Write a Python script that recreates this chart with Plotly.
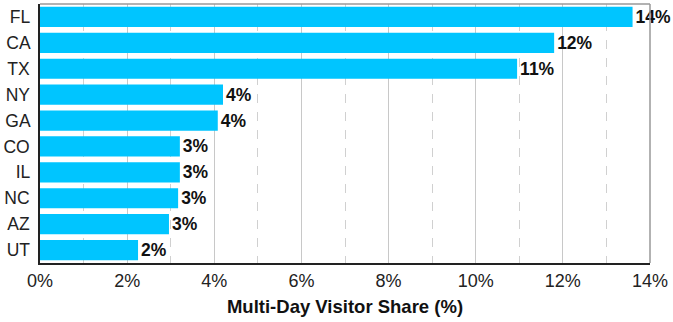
import plotly.graph_objects as go

states = ["FL", "CA", "TX", "NY", "GA", "CO", "IL", "NC", "AZ", "UT"]
share = [13.6, 11.8, 10.95, 4.2, 4.08, 3.21, 3.21, 3.17, 2.96, 2.25]
tick_vals = [0, 2, 4, 6, 8, 10, 12, 14]
tick_text = ["0%", "2%", "4%", "6%", "8%", "10%", "12%", "14%"]

FONT = "Liberation Sans, Arial, sans-serif"

fig = go.Figure(go.Bar(
    x=share, y=states, orientation="h",
    marker=dict(color="#00C5FF", line=dict(width=0)),
    texttemplate="<b>%{x:.0f}%</b>",
    textposition="outside",
    textfont=dict(family=FONT, size=17.5, color="#111111"),
    cliponaxis=False,
    constraintext="none",
    hoverinfo="skip",
))

fig.update_layout(
    width=673, height=322,
    margin=dict(l=40, r=23, t=4, b=59),
    plot_bgcolor="white", paper_bgcolor="white",
    bargap=0.22,
    showlegend=False,
    font=dict(family=FONT, size=17, color="#222222"),
    xaxis=dict(
        range=[0, 14], tickvals=tick_vals, ticktext=tick_text,
        automargin=False,
        showgrid=True, gridcolor="#c8c8c8", gridwidth=1,
        minor=dict(dtick=1, showgrid=True, gridcolor="#d0d0d0", griddash="dash", gridwidth=1),
        showline=True, linecolor="#222222", linewidth=2,
        ticks="", zeroline=False,
        tickfont=dict(size=18, color="#222222"),
        title=dict(text="<b>Multi-Day Visitor Share (%)</b>", font=dict(size=18.5, color="#111111"), standoff=10),
    ),
    yaxis=dict(
        autorange="reversed",
        automargin=False,
        showline=True, linecolor="#222222", linewidth=2,
        showgrid=False, ticks="",
        tickfont=dict(size=17.5, color="#222222"),
        ticksuffix=" ",
    ),
    shapes=[
        dict(type="line", xref="paper", yref="paper", x0=0, x1=1, y0=1, y1=1,
             line=dict(color="#999999", width=1.5)),
        dict(type="line", xref="paper", yref="paper", x0=1, x1=1, y0=0, y1=1,
             line=dict(color="#999999", width=1.5)),
    ],
)

fig.write_html(
    "out.html",
    config={"displayModeBar": False, "staticPlot": True},
    post_script="document.body.style.margin='0';document.body.style.padding='0';",
)
